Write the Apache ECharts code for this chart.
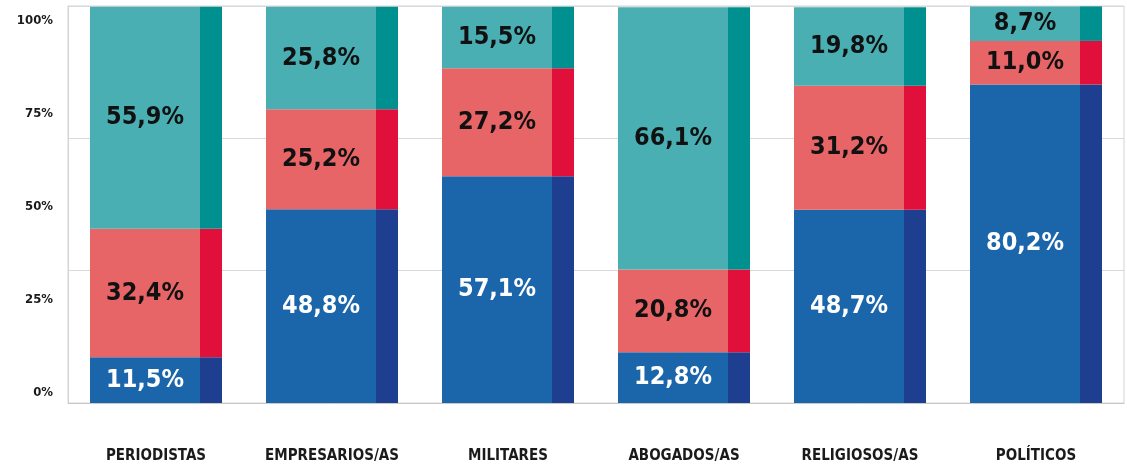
<!DOCTYPE html>
<html>
<head>
<meta charset="utf-8">
<script src="https://cdn.jsdelivr.net/npm/echarts@6/dist/echarts.min.js"></script>
<style>
html,body{margin:0;padding:0;background:#fff;}
#chart{width:1127px;height:472px;}
</style>
</head>
<body>
<div id="chart"></div>
<script>
var categories = ['PERIODISTAS', 'EMPRESARIOS/AS', 'MILITARES', 'ABOGADOS/AS', 'RELIGIOSOS/AS', 'POLÍTICOS'];
var blueValues = [11.5, 48.8, 57.1, 12.8, 48.7, 80.2];
var redValues  = [32.4, 25.2, 27.2, 20.8, 31.2, 11.0];
var tealValues = [55.9, 25.8, 15.5, 66.1, 19.8, 8.7];
var yTickLabels = [0, 25, 50, 75, 100];

var FONT = "'DejaVu Sans Condensed', 'Liberation Sans Narrow', 'DejaVu Sans', sans-serif";

function fmt(v){ return v.toFixed(1).replace('.', ',') + '%'; }

function face(name, data, color, labelColor){
  return {
    name: name, type: 'bar', stack: 'face', data: data,
    barWidth: 110, xAxisIndex: 0, yAxisIndex: 0,
    itemStyle: { color: color },
    label: { show: true, position: 'inside', color: labelColor, fontFamily: FONT,
      fontWeight: 'bold', fontSize: 25, formatter: function(p){ return fmt(p.value); } }
  };
}
function side(name, data, color){
  return {
    name: name, type: 'bar', stack: 'side', data: data,
    barWidth: 22, barGap: '0%', xAxisIndex: 0, yAxisIndex: 0,
    itemStyle: { color: color }, silent: true
  };
}

var chart = echarts.init(document.getElementById('chart'));
chart.setOption({
  animation: false,
  grid: [
    { left: 68, right: 3, top: 6, bottom: 69, show: true, borderColor: '#d4d4d4', borderWidth: 1 },
    { left: 68, width: 10, top: 21, height: 372 }
  ],
  xAxis: [
    { type: 'category', data: categories, gridIndex: 0,
      axisLine: { show: true, lineStyle: { color: '#c8c8c8' } },
      axisTick: { show: false },
      axisLabel: { interval: 0, color: '#1a1a1a', fontFamily: FONT, fontWeight: 'bold', fontSize: 15, margin: 46 } },
    { type: 'category', data: ['a'], gridIndex: 1, show: false }
  ],
  yAxis: [
    { type: 'value', gridIndex: 0, min: 0, max: 100, interval: 100/3,
      axisLabel: { show: false }, axisLine: { show: true, lineStyle: { color: '#d4d4d4' } },
      axisTick: { show: false },
      splitLine: { show: true, lineStyle: { color: '#d9d9d9', width: 1 } } },
    { type: 'value', gridIndex: 1, min: 0, max: 100, interval: 25,
      axisLine: { show: false }, axisTick: { show: false }, splitLine: { show: false },
      axisLabel: { color: '#1a1a1a', fontFamily: FONT, fontWeight: 'bold', fontSize: 13, margin: 15,
        formatter: function(v){ return yTickLabels.indexOf(v) >= 0 ? v + '%' : ''; } } }
  ],
  series: [
    face('Azul', blueValues, '#1B66AA', '#ffffff'),
    face('Rojo', redValues, '#E86567', '#111111'),
    face('Turquesa', tealValues, '#4AAFB3', '#111111'),
    side('Azul lateral', blueValues, '#1E3F8F'),
    side('Rojo lateral', redValues, '#E0103A'),
    side('Turquesa lateral', tealValues, '#009090')
  ]
});
</script>
</body>
</html>
